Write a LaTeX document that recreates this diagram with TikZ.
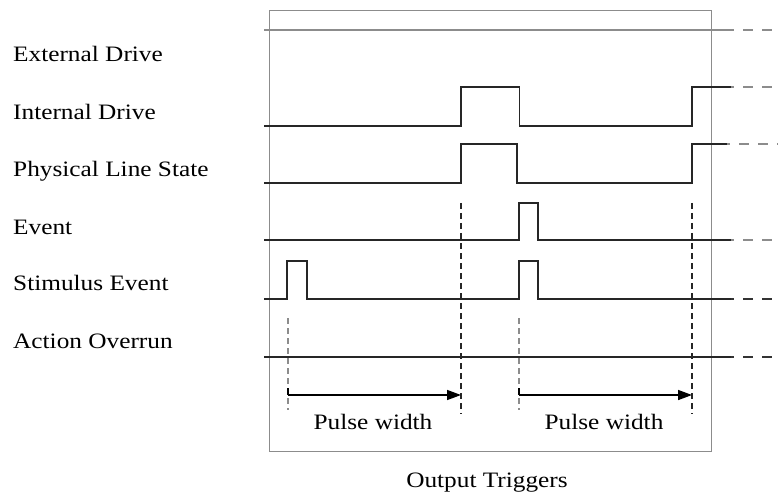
\documentclass[tikz,border=0pt]{standalone}
\usepackage{fontspec}
\setmainfont{Liberation Serif}[FakeStretch=1.15]
\usetikzlibrary{arrows.meta}
\begin{document}
\begin{tikzpicture}[x=1pt,y=-1pt,
  lbl/.style={font=\fontsize{22}{26}\selectfont, anchor=base west, inner sep=0pt},
  ctr/.style={font=\fontsize{22}{26}\selectfont, anchor=base, inner sep=0pt},
  sig/.style={line width=1.5pt, draw=black!85, line join=miter},
  gsig/.style={line width=1.8pt, draw=black!45},
  ext/.style={line width=1.6pt, dash pattern=on 10pt off 9pt, dash phase=-12pt},
  guide/.style={line width=1.3pt, dash pattern=on 6pt off 4pt},
  measure/.style={line width=1.5pt, draw=black, -{Triangle[length=14pt,width=10pt]}}]
\useasboundingbox (0,0) rectangle (778,494);
% frame
\draw[black!45, line width=1pt] (269,11) rectangle (711.5,451);
% labels
\node[lbl] (lext) at (13,62) {External Drive};
\node[lbl] (lint) at (13,120) {Internal Drive};
\node[lbl] (lphy) at (13,177) {Physical Line State};
\node[lbl] (lev)  at (13,234) {Event};
\node[lbl] (lstim) at (13,290) {Stimulus Event};
\node[lbl] (lact) at (13,348) {Action Overrun};
\node[ctr] (pw1) at (373,429) {Pulse width};
\node[ctr] (pw2) at (604,429) {Pulse width};
\node[ctr] (out) at (487,487) {Output Triggers};
% External drive
\draw[gsig] (264,30) -- (731,30);
\draw[ext, black!45] (731,30) -- (778,30);
% Internal drive
\draw[sig] (264,126) -- (461,126) -- (461,87) -- (519.5,87) -- (519.5,126) -- (692,126) -- (692,87) -- (731,87);
\draw[ext, black!45] (731,87) -- (778,87);
% Physical line state
\draw[sig] (264,183) -- (461,183) -- (461,144) -- (517,144) -- (517,183) -- (692,183) -- (692,144) -- (727,144);
\draw[ext, black!45] (727,144) -- (778,144);
% Event
\draw[sig] (264,240) -- (519,240) -- (519,203) -- (538,203) -- (538,240) -- (731,240);
\draw[ext, black!45] (731,240) -- (778,240);
% Stimulus event
\draw[sig] (264,299) -- (287,299) -- (287,261) -- (307,261) -- (307,299) -- (519,299) -- (519,261) -- (538,261) -- (538,299) -- (731,299);
\draw[ext, black!80] (731,299) -- (778,299);
% Action overrun
\draw[sig] (264,357) -- (731,357);
\draw[ext, black!80] (731,357) -- (778,357);
% guides
\coordinate (g1t) at (288,318); \coordinate (g1b) at (288,410);
\coordinate (g2t) at (461,203); \coordinate (g2b) at (461,414);
\coordinate (g3t) at (519,318); \coordinate (g3b) at (519,410);
\coordinate (g4t) at (692,203); \coordinate (g4b) at (692,414);
\draw[guide, black!45] (g1t) -- (g1b);
\draw[guide, black!85] (g2t) -- (g2b);
\draw[guide, black!45] (g3t) -- (g3b);
\draw[guide, black!85] (g4t) -- (g4b);
% measures
\coordinate (a1s) at (288,395); \coordinate (a1e) at (461,395);
\coordinate (a2s) at (519,395); \coordinate (a2e) at (692,395);
\draw[measure] (a1s) -- (a1e);
\draw[measure] (a2s) -- (a2e);
\draw[black, line width=1.5pt] (288,388) -- (a1s);
\draw[black, line width=1.5pt] (519,388) -- (a2s);
\end{tikzpicture}
\end{document}
